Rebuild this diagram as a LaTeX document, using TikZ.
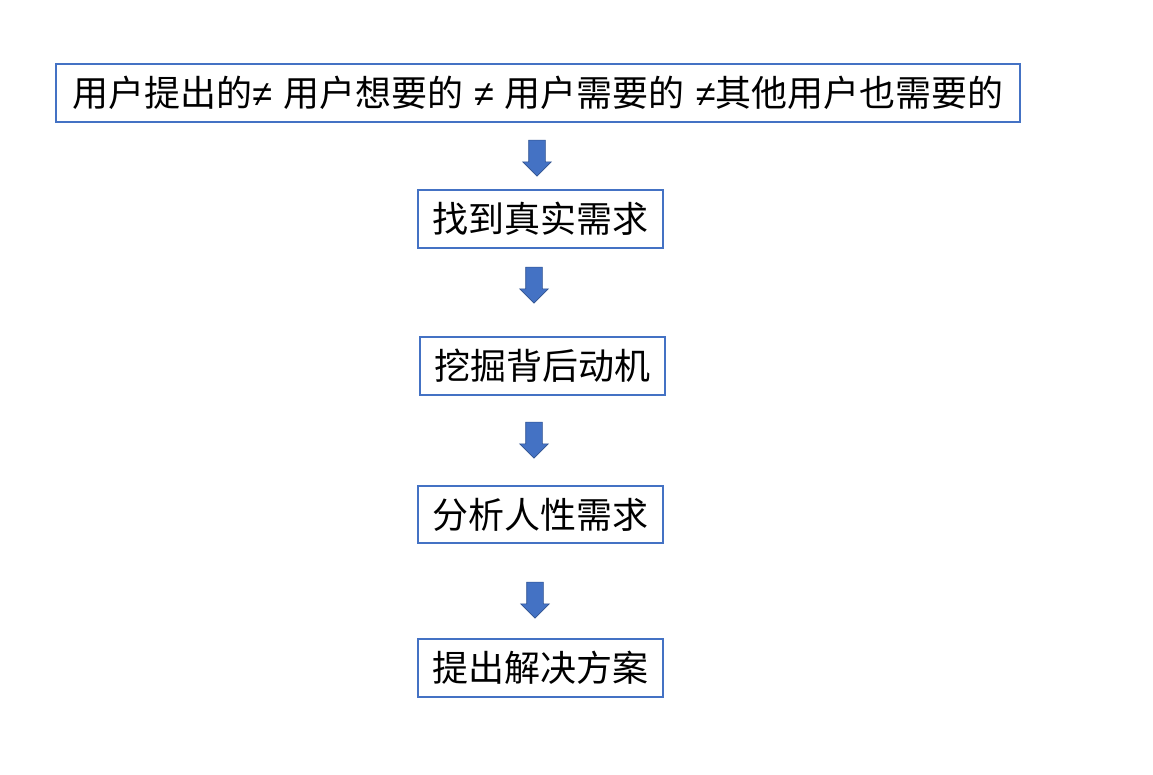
\documentclass[tikz,border=0pt]{standalone}
\usepackage{fontspec}
\setmainfont{Noto Sans CJK SC}
\newfontfamily\neqfont{Liberation Sans}
\usetikzlibrary{shapes.arrows}
\definecolor{boxblue}{HTML}{4472C4}
\definecolor{arrowedge}{HTML}{2F528F}
\newcommand{\noteq}{{\neqfont ≠}}
\newcommand{\gap}{\hspace{11pt}}
\tikzset{
	stepbox/.style={draw=boxblue, line width=1.6pt, fill=white, inner sep=0pt, minimum height=58pt, font=\fontsize{36}{42}\selectfont},
	downarrow/.style={single arrow, draw=arrowedge, fill=boxblue, line width=0.6pt, inner sep=8pt, single arrow head extend=6pt, minimum height=36pt, shape border rotate=270}
}
\begin{document}
\begin{tikzpicture}[x=1pt, y=-1pt]
	\useasboundingbox (0,0) rectangle (1153,775);
	\node[stepbox, minimum width=964pt] (ask) at (538,93) {用户提出的\noteq\gap 用户想要的\gap\noteq\gap 用户需要的\gap\noteq 其他用户也需要的};
	\node[stepbox, minimum width=245pt] (real) at (540.5,219) {找到真实需求};
	\node[stepbox, minimum width=245pt] (motive) at (542.5,366) {挖掘背后动机};
	\node[stepbox, minimum width=245pt, minimum height=57pt] (human) at (540.5,514.5) {分析人性需求};
	\node[stepbox, minimum width=245pt] (solve) at (540.5,668) {提出解决方案};
	\node[downarrow] (a1) at (537,154) {};
	\node[downarrow] (a2) at (534,281) {};
	\node[downarrow] (a3) at (534,436) {};
	\node[downarrow] (a4) at (535,596) {};
\end{tikzpicture}
\end{document}
